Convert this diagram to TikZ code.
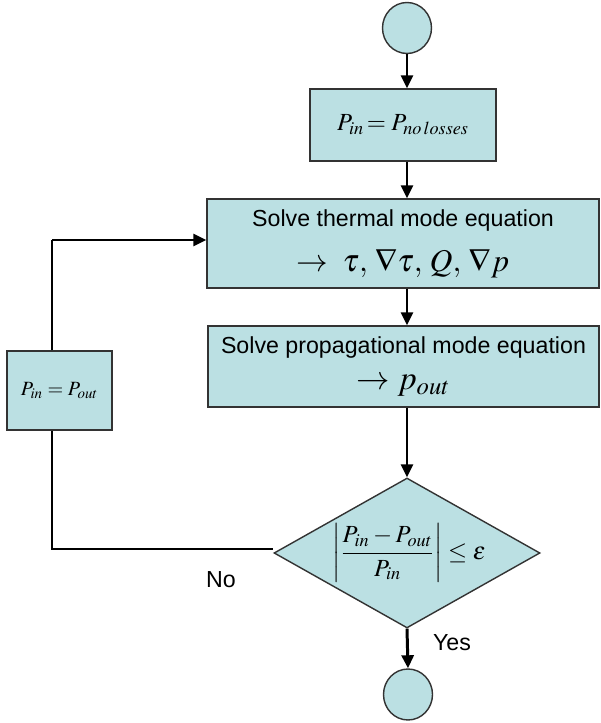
\documentclass[tikz,border=0pt]{standalone}
\usepackage{mathptmx}
\usepackage[no-math]{fontspec}
\setsansfont{Liberation Sans}
\usetikzlibrary{shapes.geometric,arrows.meta}
\definecolor{boxfill}{RGB}{187,224,227}
\definecolor{boxline}{RGB}{51,51,51}
\begin{document}
\begin{tikzpicture}[
  box/.style={draw=boxline,line width=0.8pt,fill=boxfill,inner sep=0pt,align=center},
  term/.style={ellipse,draw=boxline,line width=0.8pt,fill=boxfill,minimum width=0.98cm,minimum height=1.02cm,inner sep=0pt},
  flow/.style={line width=1.7pt,-{Triangle[length=0.26cm,width=0.24cm]}},
  back/.style={line width=0.8pt},
  lbl/.style={font=\fontsize{13.2}{15}\selectfont\sffamily}]
  \useasboundingbox (0,0) rectangle (12.02,14.46);
  \node[term] (start) at (8.14,13.90) {};
  \node[box,minimum width=3.72cm,minimum height=1.44cm,font=\fontsize{14}{16}\selectfont] (init) at (8.06,11.96) {$P_{in}\!=P_{no\,losses}$};
  \node[box,minimum width=7.84cm,minimum height=1.78cm] (thermal) at (8.06,9.59)
    {\fontsize{13.2}{15}\selectfont\sffamily Solve thermal mode equation\\[9pt]
     \fontsize{18}{20}\selectfont $\rightarrow\;\tau,\,\nabla\tau,\,Q,\,\nabla p$};
  \node[box,minimum width=7.82cm,minimum height=1.62cm] (prop) at (8.07,7.13)
    {\fontsize{13.2}{15}\selectfont\sffamily Solve propagational mode equation\\[9pt]
     \fontsize{19}{21}\selectfont $\rightarrow p_{out}$};
  \node[box,minimum width=2.10cm,minimum height=1.58cm,font=\fontsize{11.5}{13}\selectfont] (fb) at (1.19,6.65) {$P_{in}=P_{out}$};
  \node[diamond,aspect=1.77,draw=boxline,line width=0.8pt,fill=boxfill,inner sep=0pt,
    minimum width=5.32cm,minimum height=3.0cm] (dec) at (8.14,3.40) {};
  \node[font=\fontsize{14}{16}\selectfont,inner sep=0pt] (crit) at (8.18,3.40)
    {$\left|{\displaystyle\frac{P_{in}-P_{out}}{P_{in}}}\right|\le\varepsilon$};
  \node[term] (end) at (8.16,0.57) {};
  \node[lbl] (no) at (4.42,2.86) {No};
  \node[lbl] (yes) at (9.04,1.60) {Yes};
  \coordinate (bend) at (1.04,9.66);
  \coordinate (low) at (1.04,3.48);
  \draw[flow] (start.south) -- (start.south |- init.north);
  \draw[flow] (init.south -| start) -- (thermal.north -| start);
  \draw[flow] (thermal.south -| start) -- (prop.north -| start);
  \draw[flow] (prop.south -| start) -- (dec.north);
  \draw[flow] (dec.south) -- (end.north);
  \draw[back] (fb.north -| bend) -- (bend);
  \draw[flow] (bend) -- (bend -| thermal.west);
  \draw[back] (fb.south -| low) -- (low) -- (low -| dec.west);
\end{tikzpicture}
\end{document}
